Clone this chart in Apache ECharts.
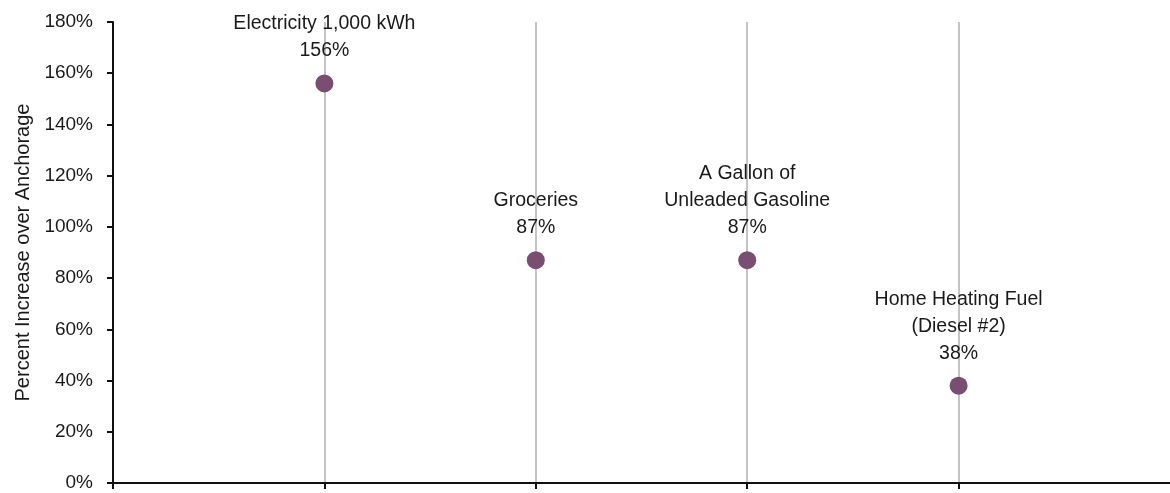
<!DOCTYPE html>
<html>
<head>
<meta charset="utf-8">
<script src="https://cdn.jsdelivr.net/npm/echarts@6/dist/echarts.min.js"></script>
<style>
  html, body { margin: 0; padding: 0; background: #fff; }
  #chart { width: 1170px; height: 493px; }
</style>
</head>
<body>
<div id="chart"></div>
<script>
// Cost items compared against Anchorage prices
const categories = [
  'Electricity 1,000 kWh',
  'Groceries',
  'A Gallon of\nUnleaded Gasoline',
  'Home Heating Fuel\n(Diesel #2)'
];
// Percent increase over Anchorage
const increases = [156, 87, 87, 38];
// Y axis range (percent)
const yMin = 0, yMax = 180, yStep = 20;

const FONT = "'Liberation Sans Narrow', 'Arial Narrow', 'Liberation Sans', Arial, sans-serif";
const TEXT = '#1a1a1a';

const slots = categories.map((c, i) => i + 1);
const points = categories.map((name, i) => ({ name: name, value: [slots[i], increases[i]] }));

const chart = echarts.init(document.getElementById('chart'), null, { renderer: 'canvas' });
chart.setOption({
  animation: false,
  backgroundColor: '#fff',
  grid: { left: 113, top: 22, bottom: 10, right: 0, containLabel: false },
  xAxis: {
    type: 'value',
    min: 0,
    max: categories.length + 1,
    interval: 1,
    axisLine: { show: true, onZero: false, lineStyle: { color: '#111', width: 2 } },
    axisTick: { show: true, inside: false, length: 6, customValues: [0].concat(slots), lineStyle: { color: '#111', width: 2 } },
    axisLabel: { show: false },
    splitLine: { show: true, showMinLine: false, lineStyle: { color: '#c4c4c4', width: 2 } }
  },
  yAxis: {
    type: 'value',
    min: yMin,
    max: yMax,
    interval: yStep,
    name: 'Percent Increase over Anchorage',
    nameLocation: 'middle',
    nameGap: 77,
    nameTextStyle: { fontFamily: FONT, fontSize: 20, color: TEXT },
    axisLine: { show: true, lineStyle: { color: '#111', width: 2 } },
    axisTick: { show: true, inside: false, length: 6, lineStyle: { color: '#111', width: 2 } },
    axisLabel: {
      formatter: '{value}%',
      margin: 20,
      fontFamily: FONT,
      fontSize: 19,
      color: TEXT
    },
    splitLine: { show: false }
  },
  series: [{
    type: 'scatter',
    symbol: 'circle',
    symbolSize: 18,
    itemStyle: { color: '#7a4e70', opacity: 1 },
    data: points,
    label: {
      show: true,
      position: 'top',
      distance: 10,
      align: 'center',
      fontFamily: FONT,
      fontSize: 19.5,
      lineHeight: 27,
      color: TEXT,
      opacity: 1,
      formatter: p => p.name + '\n' + p.value[1] + '%'
    },
    z: 5
  }]
});
</script>
</body>
</html>
